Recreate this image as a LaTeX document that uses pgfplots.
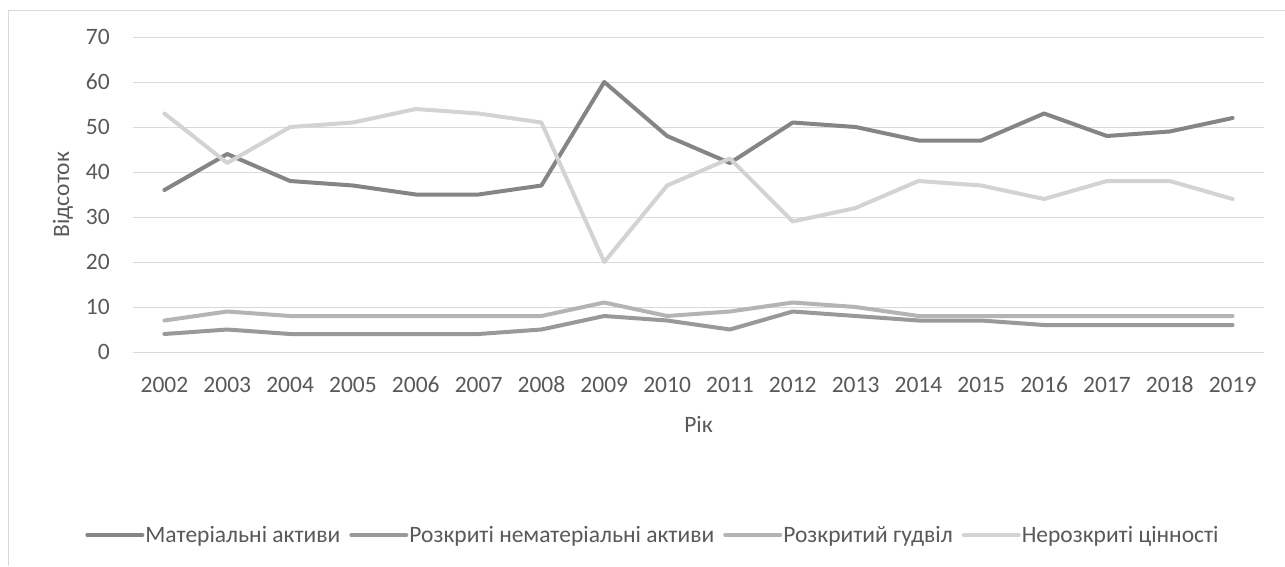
\documentclass[border=0pt]{standalone}
\usepackage{fontspec}
\setmainfont{Carlito}
\usepackage{pgfplots}
\pgfplotsset{compat=1.18}
\definecolor{txtgray}{HTML}{595959}
\definecolor{gridgray}{HTML}{D9D9D9}
\definecolor{sA}{HTML}{858585}
\definecolor{sB}{HTML}{999999}
\definecolor{sC}{HTML}{B4B4B4}
\definecolor{sD}{HTML}{D3D3D3}
\begin{document}
\begin{tikzpicture}[x=1pt,y=1pt]
\useasboundingbox (0,0) rectangle (1285,566);
\fill[white] (0,0) rectangle (1285,566);
\draw[gridgray,line width=1pt] (8.5,0) -- (8.5,555.5) -- (1285,555.5);
\begin{axis}[
  at={(133pt,214pt)}, anchor=south west,
  scale only axis, width=1131pt, height=315pt,
  xmin=-0.5, xmax=17.5, ymin=0, ymax=70,
  xtick={0,...,17},
  xticklabels={2002,2003,2004,2005,2006,2007,2008,2009,2010,2011,2012,2013,2014,2015,2016,2017,2018,2019},
  ytick={0,10,...,70},
  axis line style={draw=none},
  major tick length=0pt,
  ymajorgrids, grid style={gridgray,line width=1pt},
  font=\fontsize{23.5}{27}\selectfont,
  /pgf/number format/assume math mode=true,
  ticklabel style={text=txtgray},
  yticklabel style={inner sep=0pt, anchor=east, xshift=-23pt},
  xticklabel style={inner sep=0pt, anchor=base, yshift=-40pt},
  xlabel={Рік},
  ylabel={Відсоток},
  x label style={at={(axis description cs:0.5,0)}, anchor=base, inner sep=0pt, yshift=-80pt, text=txtgray},
  y label style={at={(axis description cs:0,0.5)}, rotate=0, anchor=center, inner sep=0pt, yshift=70pt, text=txtgray},
  legend columns=4,
  legend style={at={(axis description cs:0.4593,-0.581)}, anchor=center, draw=none, fill=none,
    nodes={inner sep=1pt, text=txtgray, font=\fontsize{23.5}{27}\selectfont},
    /tikz/every even column/.append style={column sep=8pt}},
  legend image code/.code={\draw[#1,line cap=round] (0pt,0pt) -- (55pt,0pt);},
  every axis plot/.append style={line width=4pt, line join=round, line cap=round, mark=none},
]
\addplot[sA] coordinates {(0,36)(1,44)(2,38)(3,37)(4,35)(5,35)(6,37)(7,60)(8,48)(9,42)(10,51)(11,50)(12,47)(13,47)(14,53)(15,48)(16,49)(17,52)};
\addlegendentry{Матеріальні активи}
\addplot[sB] coordinates {(0,4)(1,5)(2,4)(3,4)(4,4)(5,4)(6,5)(7,8)(8,7)(9,5)(10,9)(11,8)(12,7)(13,7)(14,6)(15,6)(16,6)(17,6)};
\addlegendentry{Розкриті нематеріальні активи}
\addplot[sC] coordinates {(0,7)(1,9)(2,8)(3,8)(4,8)(5,8)(6,8)(7,11)(8,8)(9,9)(10,11)(11,10)(12,8)(13,8)(14,8)(15,8)(16,8)(17,8)};
\addlegendentry{Розкритий гудвіл}
\addplot[sD] coordinates {(0,53)(1,42)(2,50)(3,51)(4,54)(5,53)(6,51)(7,20)(8,37)(9,43)(10,29)(11,32)(12,38)(13,37)(14,34)(15,38)(16,38)(17,34)};
\addlegendentry{Нерозкриті цінності}
\end{axis}
\end{tikzpicture}
\end{document}
